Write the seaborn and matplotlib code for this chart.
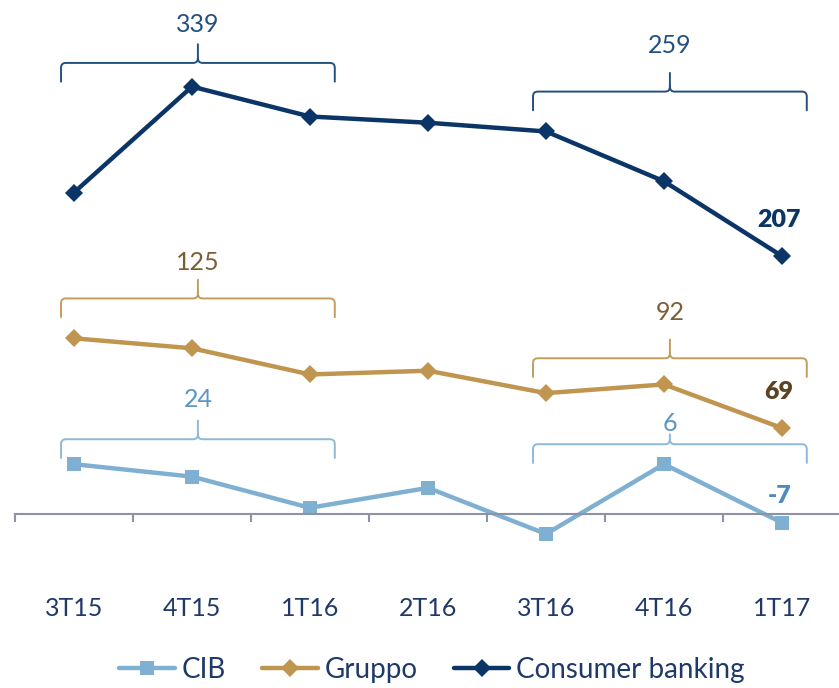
import numpy as np
import pandas as pd
import matplotlib
matplotlib.use("Agg")
import matplotlib.pyplot as plt
from matplotlib.path import Path
from matplotlib.patches import PathPatch
import seaborn as sns

# data
quarters = ["3T15", "4T15", "1T16", "2T16", "3T16", "4T16", "1T17"]
consumer = [258, 343, 319, 314, 307, 267, 207]
gruppo = [141, 133, 112, 115, 97, 104, 69]
cib = [40, 30, 5, 21, -16, 40, -7]
series_names = ["CIB", "Gruppo", "Consumer banking"]

# bracket labels: (first quarter idx, last quarter idx, label)
brackets = {
    "Consumer banking": [(0, 2, "339"), (4, 6, "259")],
    "Gruppo": [(0, 2, "125"), (4, 6, "92")],
    "CIB": [(0, 2, "24"), (4, 6, "6")],
}

# layout of the brackets (bar level, label level, tip length) in data units
bracket_layout = {
    "Consumer banking": [(362, 393, 15), (339, 376, 15)],
    "Gruppo": [(173, 202, 15), (125, 162, 15)],
    "CIB": [(60, 92, 15), (56, 73, 8)],
}

line_colors = {"CIB": "#80B0D1", "Gruppo": "#C0954F", "Consumer banking": "#0B3566"}
brace_colors = {"CIB": "#8DB8D8", "Gruppo": "#C49C5C", "Consumer banking": "#24507F"}
label_colors = {"CIB": "#5B95C0", "Gruppo": "#7B5E33", "Consumer banking": "#24507F"}
last_colors = {"CIB": "#4F8CBC", "Gruppo": "#5A4424", "Consumer banking": "#0B3566"}
text_navy = "#1F3A68"
axis_gray = "#8C93A8"

df = pd.DataFrame({
    "quarter": quarters * 3,
    "value": cib + gruppo + consumer,
    "series": ["CIB"] * 7 + ["Gruppo"] * 7 + ["Consumer banking"] * 7,
})


def draw_brace(ax, x0, x1, y, tip, color, arm=15):
    xc = (x0 + x1) / 2
    rx, ry = 0.04, 4
    M, L, C = Path.MOVETO, Path.LINETO, Path.CURVE3
    verts = [(x0, y - arm), (x0, y - ry), (x0, y), (x0 + rx, y),
             (xc - rx, y), (xc, y), (xc, y + ry), (xc, y + tip),
             (x1, y - arm), (x1, y - ry), (x1, y), (x1 - rx, y),
             (xc + rx, y), (xc, y), (xc, y + ry)]
    codes = [M, L, C, C, L, C, C, L, M, L, C, C, L, C, C]
    patch = PathPatch(Path(verts, codes), fill=False, edgecolor=color,
                      lw=1.4, clip_on=False, capstyle="round")
    ax.add_patch(patch)


sns.set_style("white")
plt.rcParams["font.family"] = ["Lato", "DejaVu Sans"]

fig = plt.figure(figsize=(8.39, 6.88), dpi=100)
ax = fig.add_axes([15 / 839, 1 - 560 / 688, 826 / 839, 520 / 688])

sns.lineplot(data=df, x="quarter", y="value", hue="series", style="series",
             hue_order=series_names, style_order=series_names,
             palette=line_colors, dashes=False,
             markers={"CIB": "s", "Gruppo": "D", "Consumer banking": "D"},
             markersize=9.5, markeredgewidth=0, linewidth=3.2,
             sort=False, ax=ax)

ax.set_xlim(-0.5, 6.5)
ax.set_ylim(-36.9, 380.4)
ax.set_xlabel("")
ax.set_ylabel("")

for s in ["top", "left", "right"]:
    ax.spines[s].set_visible(False)
ax.spines["bottom"].set_position(("data", 0))
ax.spines["bottom"].set_color(axis_gray)
ax.spines["bottom"].set_linewidth(1.5)
ax.set_yticks([])
ax.set_xticks(range(len(quarters)))
ax.set_xticklabels(quarters)
ax.set_xticks(np.arange(-0.5, len(quarters)), minor=True)
ax.tick_params(axis="x", which="major", bottom=True, length=0, pad=60,
               labelsize=18, labelcolor=text_navy)
ax.tick_params(axis="x", which="minor", bottom=True, length=6, width=1.5,
               color=axis_gray, direction="out")

values = {"CIB": cib, "Gruppo": gruppo, "Consumer banking": consumer}
for name in series_names:
    for (i0, i1, lab), (yb, yl, tip) in zip(brackets[name], bracket_layout[name]):
        draw_brace(ax, i0 - 0.11, i1 + 0.21, yb, tip, brace_colors[name])
        ax.text((i0 + i1) / 2 + 0.05, yl, lab, ha="center", va="center",
                fontsize=18, color=label_colors[name])
    # bold label on the last point
    last = values[name][-1]
    off = 19 if name == "CIB" else 26
    ax.annotate(str(last), (len(quarters) - 1, last), xytext=(-2, off),
                textcoords="offset points", ha="center", va="center",
                fontsize=18, fontweight="heavy", color=last_colors[name])

leg = ax.legend(loc="center", bbox_to_anchor=(0.515, 1 - 670 / 688),
                bbox_transform=fig.transFigure, ncol=3, frameon=False,
                fontsize=20, handlelength=2.0, handletextpad=0.25,
                columnspacing=1.3, borderaxespad=0, borderpad=0.1)
for t in leg.get_texts():
    t.set_color(text_navy)

fig.savefig("out.png", dpi=100)
